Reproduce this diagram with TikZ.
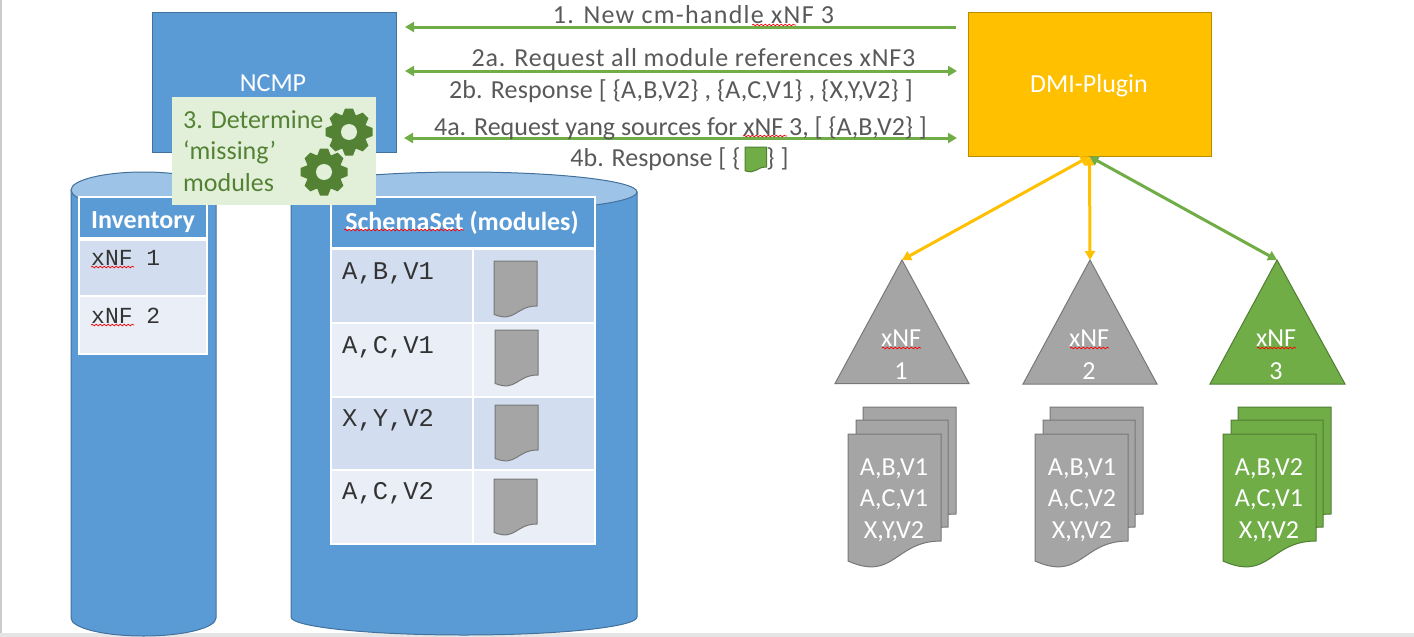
\documentclass[tikz,border=0pt]{standalone}
\usepackage{fontspec}
\setmainfont{Carlito}
\setmonofont{Liberation Mono}
\usetikzlibrary{arrows.meta,decorations.pathmorphing}
\definecolor{ncmpblue}{HTML}{5B9BD5}
\definecolor{ncmpline}{HTML}{41719C}
\definecolor{toplight}{HTML}{9DC3E6}
\definecolor{rowdark}{HTML}{D2DEEF}
\definecolor{rowlight}{HTML}{EAEFF7}
\definecolor{pluginyellow}{HTML}{FFC000}
\definecolor{pluginline}{HTML}{BC8C00}
\definecolor{xnfgray}{HTML}{A5A5A5}
\definecolor{xnfline}{HTML}{787878}
\definecolor{xnfgreen}{HTML}{70AD47}
\definecolor{greenline}{HTML}{507E32}
\definecolor{stepfill}{HTML}{E2F0D9}
\definecolor{steptext}{HTML}{548235}
\definecolor{msgtext}{HTML}{595959}
\tikzset{
  box/.style={draw,line width=1pt,minimum width=#1,inner sep=0pt},
  msg/.style={text=msgtext,font=\fontsize{26}{30}\selectfont\addfontfeature{LetterSpace=#1},inner sep=0pt},
  msg/.default=0,
  msgarrow/.style={draw=xnfgreen,line width=3pt,-{Triangle[length=9pt,width=10pt]}},
  bothways/.style={msgarrow,{Triangle[length=9pt,width=10pt]}-{Triangle[length=9pt,width=10pt]}},
  linkarrow/.style={draw=#1,line width=3pt,{Triangle[length=9pt,width=10pt]}-{Triangle[length=9pt,width=10pt]}},
  whitetext/.style={text=white,font=\fontsize{26}{33}\selectfont,align=center,inner sep=0pt},
  filetext/.style={whitetext,font=\fontsize{26}{31.5}\selectfont},
  headtext/.style={text=white,font=\fontsize{26}{30}\selectfont\bfseries,inner sep=0pt},
  celltext/.style={text=black!80,font=\fontsize{25.5}{28}\selectfont\ttfamily,anchor=west,inner sep=0pt},
  invtext/.style={celltext,font=\fontsize{23}{28}\selectfont\ttfamily},
  spell/.style={draw=red,line width=.7pt,decorate,decoration={snake,amplitude=.8pt,segment length=4pt}},
}
% page shape with the wavy foot
\newcommand{\docshape}[6]{
  \filldraw[fill=#1,draw=#2,line width=1pt] (#3,#4) -- (#3+#5,#4) -- (#3+#5,#4+#6)
    .. controls (#3+0.5*#5,#4+#6) and (#3+0.5*#5,#4+1.38*#6) .. (#3,#4+1.187*#6) -- cycle;
}
\newcommand{\gear}[2]{
  \fill[steptext] (#1,#2) circle (18);
  \foreach \a in {0,45,...,315}
    \fill[steptext,rotate around={\a:(#1,#2)}] (#1-7,#2-16) -- (#1-4,#2-23.5) -- (#1+4,#2-23.5) -- (#1+7,#2-16) -- cycle;
  \fill[stepfill] (#1,#2) circle (8);
}
\newcommand{\stack}[4]{
  \docshape{#1}{#2}{#3+15}{#4-27}{93}{107}
  \docshape{#1}{#2}{#3+8}{#4-14}{92}{107}
  \docshape{#1}{#2}{#3}{#4}{93}{107}
}
\begin{document}
\begin{tikzpicture}[x=1pt,y=-1pt]
\useasboundingbox (0,0) rectangle (1414,637);
\clip (0,0) rectangle (1414,637);
\fill[black!20] (0,0) rectangle (2,637);
\fill[black!10] (0,632.5) rectangle (1414,637);

% cylinders
\filldraw[fill=ncmpblue,draw=ncmpline,line width=1pt] (71,190) -- (71,618) arc[start angle=180,end angle=360,x radius=72.5,y radius=-18] -- (216,190) -- cycle;
\filldraw[fill=toplight,draw=ncmpline,line width=1pt] (143.5,190) ellipse (72.5 and 18);
\filldraw[fill=ncmpblue,draw=ncmpline,line width=1pt] (291,192) -- (291,617) arc[start angle=180,end angle=360,x radius=173,y radius=-18] -- (637,192) -- cycle;
\filldraw[fill=toplight,draw=ncmpline,line width=1pt] (464,192) ellipse (173 and 20);

% inventory table
\fill[white] (78,196) rectangle (208,355);
\fill[ncmpblue] (80,198) rectangle (206,237);
\fill[rowdark] (80,240.5) rectangle (206,295);
\fill[rowlight] (80,297) rectangle (206,353);
\node[headtext] (invhead) at (143,222) {Inventory};
\node[invtext] (inv1) at (91,258) {xNF 1};
\node[invtext] (inv2) at (91,316) {xNF 2};
\draw[spell] (91,267) -- (134,267);
\draw[spell] (91,325) -- (134,325);

% schema set table
\fill[white] (330,196) rectangle (596,545);
\fill[ncmpblue] (332,198) rectangle (594,247);
\foreach \ya/\yb/\col in {250/322/rowdark,324/396/rowlight,398/469/rowdark,471/543/rowlight}{
  \fill[\col] (332,\ya) rectangle (471.5,\yb);
  \fill[\col] (473.5,\ya) rectangle (594,\yb);
}
\node[headtext] (sethead) at (462,223) {SchemaSet (modules)};
\draw[spell] (344,230) -- (464,230);
\node[celltext] (mod1) at (342,273) {A,B,V1};
\node[celltext] (mod2) at (342,347) {A,C,V1};
\node[celltext] (mod3) at (342,420) {X,Y,V2};
\node[celltext] (mod4) at (342,493) {A,C,V2};
\foreach \x/\y in {494/261,495/330,495/405,494/479}{
  \docshape{xnfgray}{xnfline}{\x}{\y}{43}{45}
}

% NCMP, step 3 and plugin
\node[box=244pt,minimum height=140pt,fill=ncmpblue,draw=ncmpline] (ncmp) at (274,82) {};
\node[whitetext] (ncmptext) at (273,83) {NCMP};
\node[fill=stepfill,minimum width=204pt,minimum height=108pt,inner sep=0pt] (stepbox) at (274,151) {};
\node[text=steptext,font=\fontsize{26}{31.5}\selectfont,align=left,inner sep=0pt,anchor=north west] (steplabel) at (183,110) {3. Determine\\‘missing’\\modules};
\gear{349}{132}
\gear{324}{172}
\node[box=243pt,minimum height=144pt,fill=pluginyellow,draw=pluginline] (dmi) at (1089.5,84) {};
\node[whitetext] (dmitext) at (1089,86) {DMI-Plugin};

% messages
\coordinate (m1a) at (956,27);
\coordinate (m1b) at (405,27);
\coordinate (m2a) at (405,71);
\coordinate (m2b) at (957,71);
\coordinate (m4a) at (404,138);
\coordinate (m4b) at (957,138);
\draw[msgarrow] (m1a) -- (m1b);
\draw[bothways] (m2a) -- (m2b);
\draw[bothways] (m4a) -- (m4b);
\node[msg=5] (msg1) at (693.5,15) {1. New cm-handle xNF 3};
\node[msg=3] (msg2a) at (693.5,60) {2a. Request all module references xNF3};
\node[msg=0.6] (msg2b) at (681,91) {2b. Response [ \{A,B,V2\} , \{A,C,V1\} , \{X,Y,V2\} ]};
\node[msg] (msg4a) at (680.5,128) {4a. Request yang sources for xNF 3, [ \{A,B,V2\} ]};
\node[msg] (msg4b) at (679.5,159) {4b. Response [ \{\hspace{26pt}\} ]};
\docshape{xnfgreen}{greenline}{745}{147}{21.5}{20}
\draw[spell] (752,25) -- (796,25);
\draw[spell] (743,136) -- (787,136);

% xNF triangles
\coordinate (tip1) at (902,260);
\coordinate (tip2) at (1090,260);
\coordinate (tip3) at (1277,260);
\filldraw[fill=xnfgray,draw=xnfline,line width=1pt] (tip1) -- (969,383.5) -- (835,383.5) -- cycle;
\filldraw[fill=xnfgray,draw=xnfline,line width=1pt] (tip2) -- (1157,384) -- (1023,384) -- cycle;
\filldraw[fill=xnfgreen,draw=greenline,line width=1pt] (tip3) -- (1345,384) -- (1210,384) -- cycle;
\node[whitetext] (xnf1) at (901,355) {xNF\\1};
\node[whitetext] (xnf2) at (1089,355) {xNF\\2};
\node[whitetext] (xnf3) at (1276,355) {xNF\\3};
\draw[spell] (882,348) -- (921,348);
\draw[spell] (1070,348) -- (1109,348);
\draw[spell] (1257,348) -- (1296,348);

\draw[linkarrow=pluginyellow] (dmi.south) -- (tip1);
\draw[linkarrow=pluginyellow] (dmi.south) -- (tip2);
\draw[linkarrow=xnfgreen] (dmi.south) -- (tip3);

% module stacks
\stack{xnfgray}{xnfline}{848}{434}
\stack{xnfgray}{xnfline}{1035}{434}
\stack{xnfgreen}{greenline}{1223}{434}
\node[filetext] (files1) at (894,500) {A,B,V1\\A,C,V1\\X,Y,V2};
\node[filetext] (files2) at (1082,500) {A,B,V1\\A,C,V2\\X,Y,V2};
\node[filetext] (files3) at (1269,500) {A,B,V2\\A,C,V1\\X,Y,V2};
\end{tikzpicture}
\end{document}
